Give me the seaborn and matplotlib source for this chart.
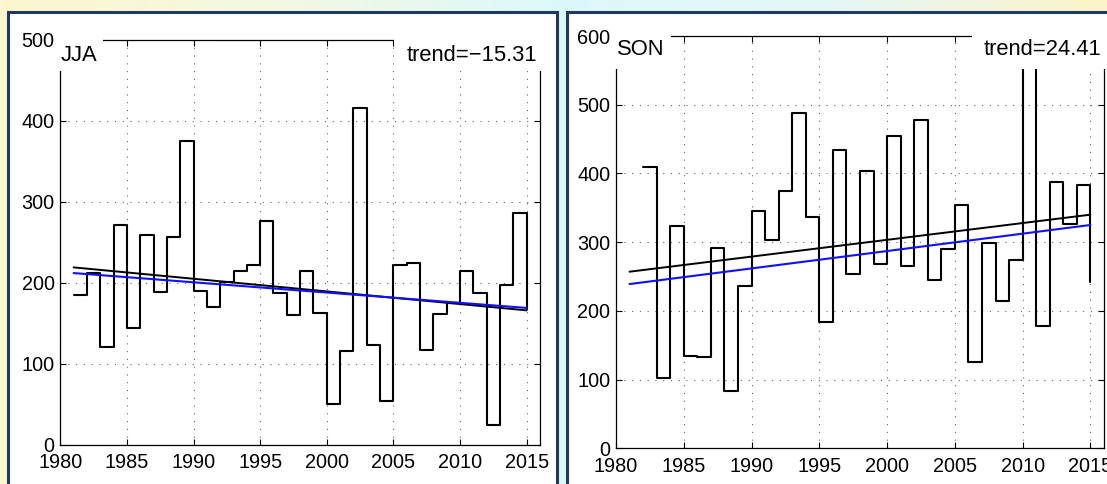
import numpy as np
import matplotlib
matplotlib.use("Agg")
import matplotlib.pyplot as plt
from matplotlib.patches import Rectangle
from matplotlib.colors import LinearSegmentedColormap
import seaborn as sns

# JJA series (value for each year, drawn as stairs)
jja_years = list(range(1981, 2016))
jja_vals = [185, 212, 121, 271, 144, 259, 189, 257, 375, 190,
            170, 201, 214, 222, 276, 188, 160, 215, 163, 50,
            116, 415, 123, 54, 222, 225, 117, 162, 175, 215,
            188, 25, 197, 286, 168]
jja_trend_x = [1981, 2015]
jja_trend_black = [219, 166]
jja_trend_blue = [212, 169]

# SON series (1981 missing)
son_years = list(range(1982, 2016))
son_vals = [410, 103, 324, 135, 133, 291, 83, 236, 346, 303,
            374, 488, 337, 184, 434, 254, 404, 268, 455, 266,
            478, 245, 290, 354, 126, 299, 215, 274, 650, 178,
            387, 326, 383, 242]
son_trend_x = [1981, 2015]
son_trend_black = [257, 340]
son_trend_blue = [239, 325]

xticks = [1980, 1985, 1990, 1995, 2000, 2005, 2010, 2015]

sns.set_theme(style="ticks")
plt.rcParams["font.family"] = ["Liberation Sans", "DejaVu Sans"]
plt.rcParams["axes.unicode_minus"] = True
plt.rcParams["text.color"] = "black"
plt.rcParams["xtick.color"] = "black"
plt.rcParams["ytick.color"] = "black"

W, H = 1107, 484
fig = plt.figure(figsize=(W / 100, H / 100), dpi=100)

# slide-like background
bg = fig.add_axes([0, 0, 1, 1], zorder=-10)
cmap = LinearSegmentedColormap.from_list(
    "bg", ["#fdf6cf", "#f3f9e2", "#dcf8fb", "#e4f6f6", "#fbf3c8"])
grad = np.linspace(0, 1, 256).reshape(1, -1)
bg.imshow(grad, aspect="auto", cmap=cmap, extent=[0, 1, 0, 1])
bg.axis("off")

# white panels with navy border
navy = "#1f3a60"
fig.add_artist(Rectangle((8 / W, -0.1), (557 - 8) / W, 1 - 12 / H + 0.1,
                         transform=fig.transFigure, facecolor="white",
                         edgecolor=navy, lw=2.2, zorder=-5))
fig.add_artist(Rectangle((567 / W, -0.1), 0.6, 1 - 12 / H + 0.1,
                         transform=fig.transFigure, facecolor="white",
                         edgecolor=navy, lw=2.2, zorder=-5))


def panel(rect, years, vals, tx, tb, tbl, ymax, label, trend_txt, cut_l, cut_r, cut_y, base_y):
    ax = fig.add_axes(rect)
    ax.set_facecolor("none")
    sns.lineplot(x=years, y=vals, ax=ax, color="black", lw=1.5,
                 drawstyle="steps-post", estimator=None, sort=False)
    sns.lineplot(x=tx, y=tb, ax=ax, color="black", lw=1.4, estimator=None)
    sns.lineplot(x=tx, y=tbl, ax=ax, color="#1010ff", lw=1.5, estimator=None)
    ax.set_xlim(1980, 2016)
    ax.set_ylim(0, ymax)
    ax.set_xticks(xticks)
    ax.set_yticks(range(0, ymax + 1, 100))
    ax.grid(True, linestyle=(0, (1, 6)), color="0.4", lw=0.8)
    ax.tick_params(direction="in", length=4, width=0.8, labelsize=14.3,
                   top=True, right=True, pad=4, colors="black")
    ax.tick_params(axis="x", pad=6)
    for s in ax.spines.values():
        s.set_linewidth(0.9)
        s.set_color("black")
    ax.set_xlabel("")
    ax.set_ylabel("")
    # white boxes behind the labels, covering the frame
    ax.add_patch(Rectangle((1979.85, cut_y), cut_l - 1979.85, ymax * 0.1,
                           facecolor="white", edgecolor="none",
                           zorder=3, clip_on=False))
    ax.add_patch(Rectangle((cut_r, cut_y), 2016.3 - cut_r, ymax * 0.1,
                           facecolor="white", edgecolor="none",
                           zorder=3, clip_on=False))
    ax.text(1980.05, base_y, label, fontsize=15.8, ha="left", va="baseline", zorder=4)
    ax.text(2015.8, base_y, trend_txt, fontsize=15.8, ha="right", va="baseline", zorder=4)
    return ax


panel([60.3 / W, 1 - 445 / H, (540 - 60.3) / W, (445 - 39.5) / H],
      jja_years, jja_vals, jja_trend_x, jja_trend_black, jja_trend_blue,
      500, "JJA", "trend=\u221215.31", 1983.2, 2005.07, 461, 474)

panel([616 / W, 1 - 448.3 / H, (1104 - 616) / W, (448.3 - 36) / H],
      son_years, son_vals, son_trend_x, son_trend_black, son_trend_blue,
      600, "SON", "trend=24.41", 1984.07, 2006.26, 552, 572)

fig.savefig("out.png", dpi=100)
